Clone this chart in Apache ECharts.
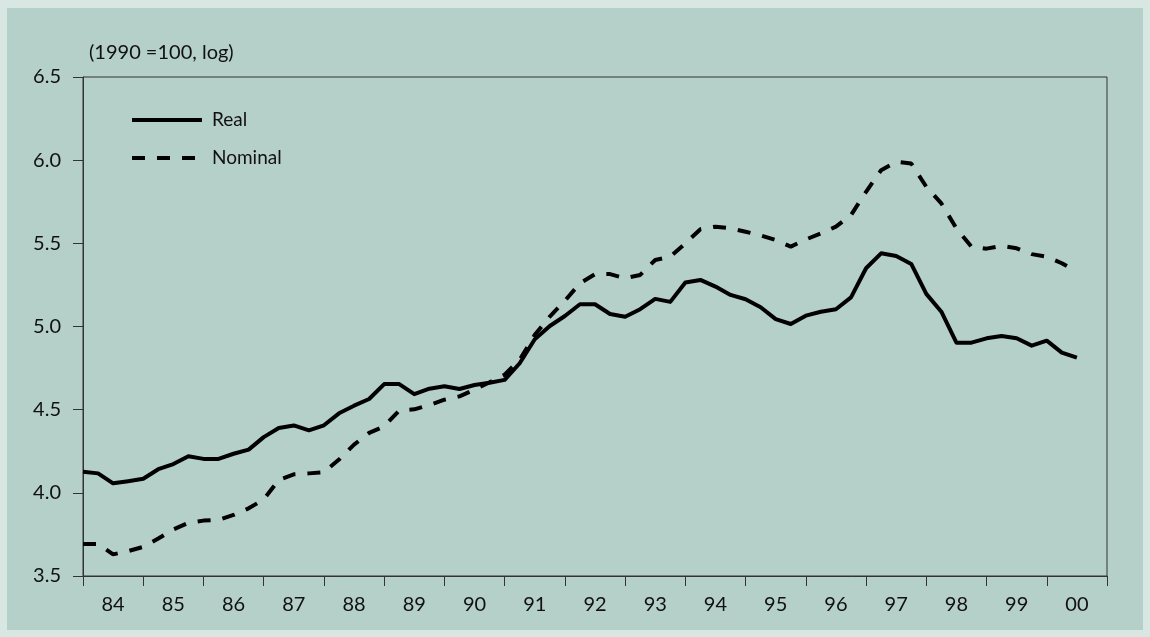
<!DOCTYPE html>
<html>
<head>
<meta charset="utf-8">
<script src="https://cdn.jsdelivr.net/npm/echarts@6/dist/echarts.min.js"></script>
<style>
  html, body { margin: 0; padding: 0; background: #d9e7e3; }
  #bg { position: absolute; left: 7px; top: 8px; width: 1136px; height: 622px; background: #b5cfc9; }
  #chart { position: absolute; left: 0; top: 0; width: 1150px; height: 637px; }
</style>
</head>
<body>
<div id="bg"></div>
<div id="chart"></div>
<script>
const years = ['84','85','86','87','88','89','90','91','92','93','94','95','96','97','98','99','00'];
const yTicks = [3.5, 4.0, 4.5, 5.0, 5.5, 6.0, 6.5];
const unitNote = '(1990 =100, log)';

const real = [4.127,4.117,4.057,4.07,4.085,4.142,4.173,4.22,4.204,4.204,4.235,4.26,4.335,4.39,4.405,4.376,
  4.406,4.478,4.524,4.564,4.654,4.654,4.593,4.626,4.641,4.624,4.648,4.662,4.679,4.779,4.923,5.003,
  5.063,5.134,5.134,5.075,5.059,5.104,5.166,5.148,5.264,5.280,5.240,5.190,5.164,5.116,5.044,5.015,
  5.065,5.089,5.104,5.175,5.350,5.440,5.424,5.376,5.196,5.089,4.903,4.903,4.929,4.943,4.929,4.885,
  4.915,4.843,4.813];
const nominal = [3.692,3.692,3.63,3.65,3.675,3.725,3.78,3.82,3.833,3.837,3.867,3.907,3.96,4.077,4.111,4.117,
  4.124,4.20,4.29,4.36,4.40,4.495,4.502,4.528,4.56,4.58,4.62,4.665,4.71,4.80,4.95,5.06,
  5.155,5.26,5.315,5.315,5.29,5.31,5.40,5.42,5.50,5.585,5.60,5.59,5.57,5.548,5.52,5.48,
  5.523,5.56,5.60,5.67,5.81,5.94,5.99,5.98,5.84,5.74,5.59,5.48,5.468,5.485,5.47,5.435,
  5.42,5.38,5.33];

// quarterly category positions: 84Q1 ... 01Q1 (boundary)
const quarters = [];
years.forEach(y => { for (let q = 1; q <= 4; q++) quarters.push(y + 'Q' + q); });
quarters.push('01Q1');

const FONT = 'Lato';
const chart = echarts.init(document.getElementById('chart'), null, { renderer: 'canvas' });
chart.setOption({
  animation: false,
  backgroundColor: 'transparent',
  textStyle: { fontFamily: FONT, color: '#111' },
  title: {
    text: unitNote, left: 84, top: 38,
    textStyle: { fontFamily: FONT, fontSize: 20, fontWeight: 'normal', color: '#111' }
  },
  legend: {
    orient: 'vertical', left: 130, top: 109, padding: 0, itemWidth: 70, itemHeight: 14, itemGap: 16,
    itemStyle: { opacity: 0, borderWidth: 0 },
    lineStyle: { width: 4 },
    textStyle: { fontFamily: FONT, fontSize: 19, color: '#111', lineHeight: 22, padding: [0, 0, 0, 5] },
    data: ['Real', 'Nominal']
  },
  grid: { left: 83, right: 43, top: 77, bottom: 61, show: true, borderColor: '#333', borderWidth: 1, backgroundColor: 'transparent' },
  xAxis: [
    {
      type: 'category', data: years, boundaryGap: true, position: 'bottom',
      axisLine: { show: true, lineStyle: { color: '#333', width: 1 } },
      axisTick: { show: true, inside: false, length: 10, alignWithLabel: false, lineStyle: { color: '#333' } },
      axisLabel: { fontFamily: FONT, fontSize: 20, color: '#111', margin: 19 },
      splitLine: { show: false }
    },
    {
      type: 'category', data: quarters, boundaryGap: false, show: false,
      position: 'bottom'
    }
  ],
  yAxis: {
    type: 'value', min: yTicks[0], max: yTicks[yTicks.length - 1], interval: 0.5,
    axisLine: { show: true, lineStyle: { color: '#333', width: 1 } },
    axisTick: { show: true, inside: false, length: 10, lineStyle: { color: '#333' } },
    axisLabel: { fontFamily: FONT, fontSize: 20, color: '#111', margin: 22, formatter: v => v.toFixed(1) },
    splitLine: { show: false }
  },
  series: [
    {
      name: 'Real', type: 'line', xAxisIndex: 1, data: real, symbol: 'none', showSymbol: false,
      lineStyle: { color: '#000', width: 4, join: 'round' }, itemStyle: { color: '#000' }
    },
    {
      name: 'Nominal', type: 'line', xAxisIndex: 1, data: nominal, symbol: 'none', showSymbol: false,
      lineStyle: { color: '#000', width: 4, type: [13, 12], cap: 'butt' }, itemStyle: { color: '#000' }
    }
  ]
});
</script>
</body>
</html>
